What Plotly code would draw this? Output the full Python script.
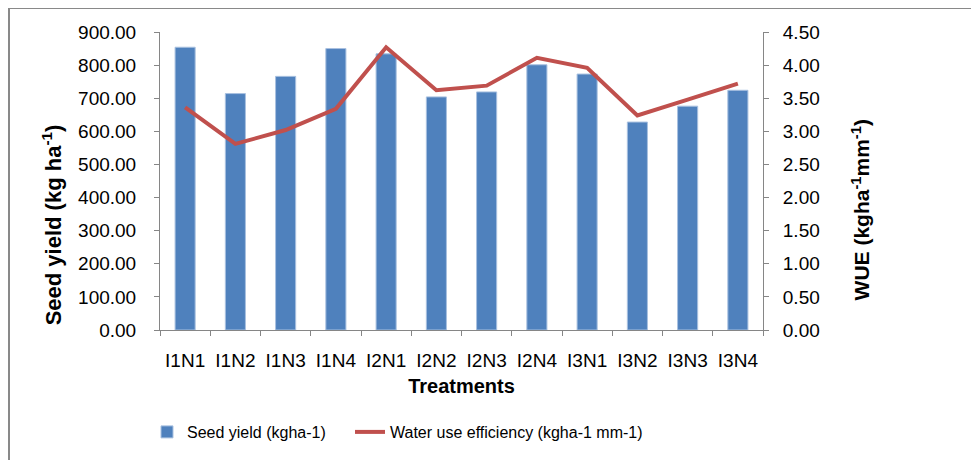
import plotly.graph_objects as go

categories = ["I1N1", "I1N2", "I1N3", "I1N4", "I2N1", "I2N2", "I2N3", "I2N4",
              "I3N1", "I3N2", "I3N3", "I3N4"]
seed_yield = [854, 714, 766, 850, 834, 704, 719, 801, 773, 628, 676, 724]
wue = [3.36, 2.81, 3.02, 3.34, 4.27, 3.62, 3.69, 4.11, 3.96, 3.24, 3.48, 3.72]
yield_ticks = [0, 100, 200, 300, 400, 500, 600, 700, 800, 900]
wue_ticks = [0, 0.5, 1.0, 1.5, 2.0, 2.5, 3.0, 3.5, 4.0, 4.5]

# page places the figure at (8, 8) because of the default body margin
OFF = 8
W, H = 979 - OFF, 460 - OFF
PL, PR, PT, PB = 160, 763, 32, 331   # plot area in window pixels
L, R, T, B = PL - OFF, W - (PR - OFF), PT - OFF, H - (PB - OFF)

def px_x(x):
    return (x - PL) / (PR - PL)

def px_y(y):
    return (PB - y) / (PB - PT)

AX = "#868686"
FONT = "Liberation Sans, Arial, sans-serif"

fig = go.Figure()
fig.add_trace(go.Bar(
    x=categories, y=seed_yield, name="Seed yield (kgha-1)",
    marker=dict(color="#4F81BD", line=dict(color="#A9C1E0", width=1)),
    width=0.4, yaxis="y", legend="legend",
))
fig.add_trace(go.Scatter(
    x=categories, y=wue, name="Water use efficiency (kgha-1 mm-1)",
    mode="lines", line=dict(color="#C0504D", width=4), yaxis="y2",
    legend="legend2",
))

fig.update_layout(
    width=W, height=H,
    margin=dict(l=L, r=R, t=T, b=B),
    paper_bgcolor="white", plot_bgcolor="white",
    font=dict(family=FONT, color="black", size=16),
    showlegend=True,
    legend=dict(orientation="h", x=px_x(147), y=px_y(432), yanchor="middle",
                xanchor="left", font=dict(size=16), itemwidth=30),
    legend2=dict(orientation="h", x=px_x(350), y=px_y(432), yanchor="middle",
                 xanchor="left", font=dict(size=16), itemwidth=30),
    xaxis=dict(
        type="category", range=[-0.5, 11.5], showline=True, linecolor=AX,
        linewidth=1, ticks="outside", tickson="boundaries", ticklen=5,
        tickcolor=AX, tickfont=dict(size=19), ticklabelstandoff=13,
        title=dict(text="<b>Treatments</b>", font=dict(size=20), standoff=9),
        showgrid=False, zeroline=False,
    ),
    yaxis=dict(
        range=[0, 900], tickvals=yield_ticks, tickformat=".2f",
        showline=True, linecolor=AX, linewidth=1, ticks="outside", ticklen=5,
        tickcolor=AX, tickfont=dict(size=19), ticklabelstandoff=14,
        showgrid=False, zeroline=False,
    ),
    yaxis2=dict(
        range=[0, 4.5], tickvals=wue_ticks, tickformat=".2f",
        overlaying="y", side="right",
        showline=True, linecolor=AX, linewidth=1, ticks="outside", ticklen=5,
        tickcolor=AX, tickfont=dict(size=19), ticklabelstandoff=10,
        showgrid=False, zeroline=False,
    ),
    annotations=[
        dict(text="<b>Seed yield (kg ha<sup>-1</sup>)</b>", textangle=-90,
             xref="paper", yref="paper", x=px_x(52), y=px_y(226),
             xanchor="center", yanchor="middle", showarrow=False,
             font=dict(size=22)),
        dict(text="<b>WUE (kgha<sup>-1</sup>mm<sup>-1</sup>)</b>", textangle=-90,
             xref="paper", yref="paper", x=px_x(861), y=px_y(211),
             xanchor="center", yanchor="middle", showarrow=False,
             font=dict(size=21)),
    ],
    shapes=[
        dict(type="line", xref="paper", yref="paper",
             x0=px_x(8), x1=px_x(985), y0=px_y(8), y1=px_y(8),
             line=dict(color="#898989", width=2)),
        dict(type="line", xref="paper", yref="paper",
             x0=px_x(9), x1=px_x(9), y0=px_y(7), y1=px_y(470),
             line=dict(color="#898989", width=2)),
    ],
)

fig.write_html("out.html")
